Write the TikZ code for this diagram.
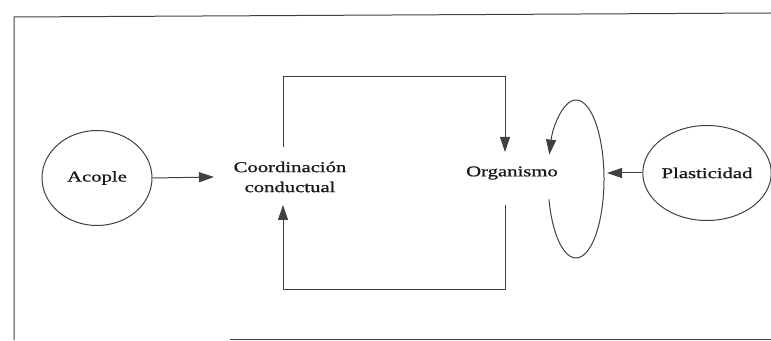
\documentclass[tikz,border=0pt]{standalone}
\usepackage{fontspec}
\setmainfont{Liberation Serif}[FakeBold=0.8]
\usetikzlibrary{arrows.meta,shapes.geometric,calc}
\begin{document}
\begin{tikzpicture}[x=1pt,y=1pt,
  ln/.style={line width=1pt,draw=black!75},
  arr/.style={ln,-{Triangle[length=15pt,width=10pt]}},
  lbl/.style={font=\fontsize{15}{20}\selectfont,text=black!90,align=center,inner sep=0pt},
  circ/.style={ellipse,ln,inner sep=0pt,font=\fontsize{15}{20}\selectfont,text=black!90}]
\useasboundingbox (0,0) rectangle (771,340);
% frame
\draw[ln] (771,327) -- (14,323) -- (14,0);
\draw[ln] (230,1) -- (771,1);
% nodes
\node[circ,minimum width=110,minimum height=95] (acople) at (97,162) {\scalebox{1.38}[1]{Acople}};
\node[lbl] (coord) at (290,163) {\scalebox{1.38}[1]{Coordinación}\\\scalebox{1.38}[1]{conductual}};
\node[lbl] (org) at (512,167) {\scalebox{1.38}[1]{Organismo}};
\node[circ,minimum width=108,minimum height=95] (plast) at (707,167) {\scalebox{1.38}[1]{Plasticidad}};
% connectors
\coordinate (a1) at (214,163);
\draw[arr] (acople.east) -- (a1);
\coordinate (c1) at (283,193);
\coordinate (c2) at (283,135);
\coordinate (o1) at (505,188);
\coordinate (o2) at (505,135);
\draw[arr] (c1) -- (283,263) -- (505,263) -- (o1);
\draw[arr] (o2) -- (505,50) -- (283,50) -- (c2);
% self loop
\coordinate (loopc) at (576,161);
\draw[arr] ($(loopc)+(195:28pt and 79pt)$) arc[start angle=195,end angle=522,x radius=28pt,y radius=79pt];
\coordinate (p1) at (607,167);
\draw[arr] (plast.west) -- (p1);
\end{tikzpicture}
\end{document}
